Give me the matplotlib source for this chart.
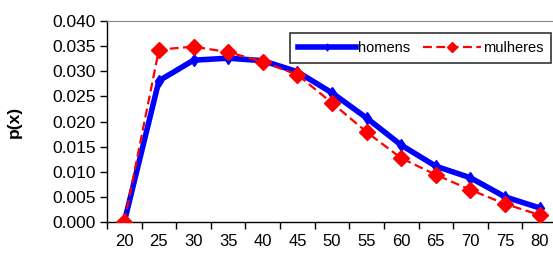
import numpy as np
import matplotlib.pyplot as plt
from matplotlib.ticker import FixedLocator

idades = [20, 25, 30, 35, 40, 45, 50, 55, 60, 65, 70, 75, 80]
homens = [0.0, 0.0281, 0.0322, 0.0326, 0.0321, 0.0299, 0.0257, 0.0207,
          0.0153, 0.0111, 0.0088, 0.0050, 0.0028]
mulheres = [0.0, 0.0343, 0.0349, 0.0338, 0.0319, 0.0293, 0.0237, 0.0179,
            0.0127, 0.0094, 0.0064, 0.0036, 0.0014]

plt.rcParams['font.family'] = ['Liberation Sans', 'DejaVu Sans']

fig = plt.figure(figsize=(5.53, 2.54), dpi=100)
ax = fig.add_axes([107/553, 32/254, 450/553, 201/254])

x = np.arange(len(idades))
ax.plot(x, homens, color='#0000ff', lw=4, marker='d', ms=6,
        mec='#0000ff', label='homens', zorder=2)
ax.plot(x, mulheres, color='#ff0000', lw=1.6, ls=(0, (4, 2)), marker='D',
        ms=8, mec='#ff0000', label='mulheres', zorder=3)

ax.set_xlim(-0.5, len(idades) - 0.5)
ax.set_ylim(0, 0.040)
ax.set_yticks(np.arange(0, 0.0401, 0.005))
ax.yaxis.set_major_formatter(plt.FormatStrFormatter('%.3f'))
ax.set_xticks(x)
ax.set_xticklabels(idades)
ax.xaxis.set_minor_locator(FixedLocator(np.arange(-0.5, len(idades), 1)))
ax.tick_params(axis='x', which='major', length=0, pad=9, labelsize=12)
ax.tick_params(axis='x', which='minor', length=5, width=1, direction='out')
ax.tick_params(axis='y', length=5, width=1, labelsize=12.5, pad=3)

ax.set_ylabel('p(x)', fontsize=12.5, fontweight='bold', labelpad=22)

for s in ['left', 'bottom']:
    ax.spines[s].set_color('black')
    ax.spines[s].set_linewidth(1)
ax.spines['top'].set_color('#888888')
ax.spines['right'].set_visible(False)

leg = ax.legend(ncol=2, loc='upper right', bbox_to_anchor=(0.987, 0.94),
                fontsize=10.5, frameon=True, fancybox=False, handlelength=4.0,
                handletextpad=0.1, columnspacing=0.9, borderpad=0.55,
                borderaxespad=0, markerscale=0.6)
leg.get_frame().set_edgecolor('black')
leg.get_frame().set_linewidth(1.2)

fig.savefig('out.png', dpi=100)
